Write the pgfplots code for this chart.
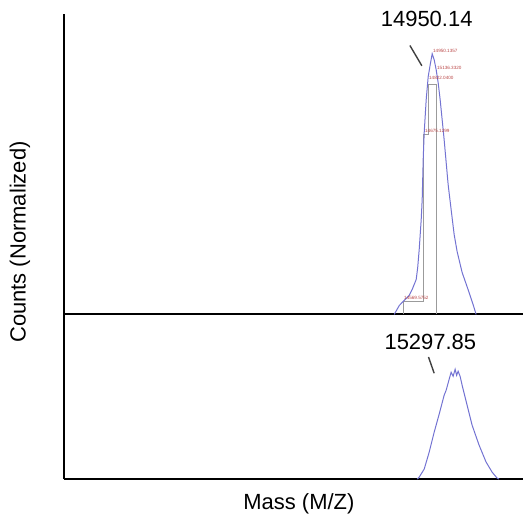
\documentclass[border=0pt]{standalone}
\usepackage{pgfplots}
\pgfplotsset{compat=1.18}
\usepackage{fontspec}
\setmainfont{Liberation Sans}

\definecolor{trace}{RGB}{115,115,210}
\definecolor{peaklbl}{RGB}{185,70,70}
\definecolor{bracket}{RGB}{155,155,155}

\pgfplotsset{
  msaxis/.style={
    scale only axis,
    width=230pt,
    xmin=9046, xmax=16406,
    ymin=0,
    axis x line=bottom,
    axis y line=left,
    axis line style={-, line width=1pt, black},
    xtick=\empty, ytick=\empty,
    clip=false,
  },
}

\begin{document}
\begin{tikzpicture}
\path (-32pt,-19.5pt) rectangle (230pt,240pt);

% top spectrum
\begin{axis}[msaxis, height=150.5pt, ymax=1.153,
  at={(0,82.5pt)}, anchor=south west]
\addplot[bracket, line width=0.4pt, forget plot] coordinates {
  (14486,0) (14486,0.050) (14806,0.050) (14806,0.690)
  (14886,0.690) (14886,0.881) (15014,0.881) (15014,0)};
\addplot[trace, line width=0.5pt] coordinates {
  (14342,0) (14422,0.034) (14502,0.054) (14582,0.073) (14630,0.096)
  (14694,0.134) (14718,0.180) (14742,0.249) (14774,0.364) (14790,0.441)
  (14806,0.594) (14822,0.697) (14854,0.824) (14886,0.912) (14918,0.958)
  (14950,1.000) (14982,0.977) (15014,0.939) (15046,0.889) (15078,0.824)
  (15142,0.670) (15206,0.498) (15254,0.402) (15302,0.307) (15350,0.241)
  (15430,0.161) (15542,0.084) (15606,0.038) (15654,0)};
\addplot[black!75, line width=0.7pt, forget plot] coordinates {(14593,1.032) (14785,0.954)};
\node[font=\fontsize{11}{13}\selectfont] at (axis cs:14862,1.132) {14950.14};
\begin{scope}[every node/.style={font=\fontsize{2.3}{2.5}\selectfont, text=peaklbl, anchor=west, inner sep=0.3pt}]
\node at (axis cs:14950,1.011) {14950.1357};
\node at (axis cs:15014,0.946) {15136.3320};
\node at (axis cs:14886,0.908) {14822.0400};
\node at (axis cs:14822,0.705) {14675.1299};
\node at (axis cs:14486,0.065) {14569.5752};
\end{scope}
\end{axis}

% bottom spectrum
\begin{axis}[msaxis, height=82.5pt, ymax=1.5,
  at={(0,0)}, anchor=south west]
\addplot[trace, line width=0.5pt] coordinates {
  (14710,0) (14742,0.018) (14822,0.091) (14902,0.245) (14982,0.427)
  (15062,0.591) (15142,0.764) (15174,0.809) (15222,0.909) (15254,0.973)
  (15286,0.936) (15318,1.000) (15342,0.945) (15366,0.982) (15398,0.936)
  (15430,0.855) (15510,0.673) (15590,0.491) (15702,0.309) (15814,0.155)
  (15910,0.064) (15990,0.009) (16022,0)};
\addplot[black!75, line width=0.7pt, forget plot] coordinates {(14891,1.112) (14982,0.964)};
\node[font=\fontsize{11}{13}\selectfont] at (axis cs:14921,1.25) {15297.85};
\end{axis}

\node[rotate=90, font=\fontsize{11}{13}\selectfont] at (-22pt,118.75pt) {Counts (Normalized)};
\node[font=\fontsize{11}{13}\selectfont] at (117.75pt,-12.5pt) {Mass (M/Z)};
\end{tikzpicture}
\end{document}
